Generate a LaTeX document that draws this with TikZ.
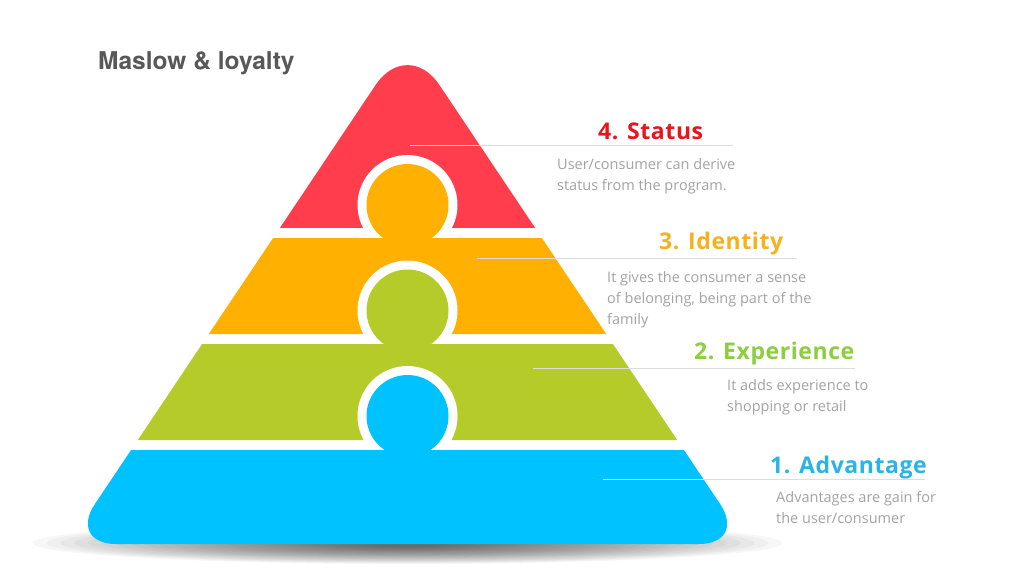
\documentclass[tikz,border=0pt]{standalone}
\usepackage{fontspec}
\setmainfont{Open Sans}
\newfontfamily\headfont{TeX Gyre Heros}
\newfontfamily\levelfont[LetterSpace=2.5]{Open Sans}
\usepackage{tikz}
\usetikzlibrary{positioning}
\usepackage{xcolor}
\definecolor{statusred}{HTML}{FF3D4C}
\definecolor{identityorange}{HTML}{FFB000}
\definecolor{experiencegreen}{HTML}{B5CB2A}
\definecolor{advantageblue}{HTML}{00C2FF}
\definecolor{statustext}{HTML}{E8141E}
\definecolor{identitytext}{HTML}{F5B21E}
\definecolor{experiencetext}{HTML}{8CCF3C}
\definecolor{advantagetext}{HTML}{2AB3E6}
\definecolor{titlegray}{HTML}{585858}
\definecolor{descgray}{HTML}{A3A3A3}
\definecolor{leader}{HTML}{DDDDDD}
\tikzset{
  level/.style={font=\levelfont\bfseries\fontsize{23}{26}\selectfont, anchor=base west, inner sep=0pt},
  desc/.style={font=\fontsize{14.5}{21}\selectfont, text=descgray, align=left, anchor=north west, inner sep=0pt},
  leaderline/.style={draw=leader, line width=1pt},
  ring/.style={fill=white},
}

\begin{document}
\begin{tikzpicture}[x=1pt, y=-1pt]
  \fill[white] (0,0) rectangle (1024,586);
  % shadow under the base
  \foreach \k in {0,...,24}
    \fill[black, opacity=0.032] (407.5,543) ellipse [x radius={375*(1-\k/27)}, y radius={21*(1-\k/30)}];

  % 4 status (top)
  \begin{scope}
    \clip (0,0) rectangle (1024,227);
    \fill[statusred, rounded corners=57] (407.5,37.4) -- (596.8,320) -- (218.2,320) -- cycle;
  \end{scope}
  \fill[ring] (407.5,205) circle [radius=50];

  % 3 identity
  \fill[identityorange] (273.1,238) -- (541.9,238) -- (606.2,334) -- (208.8,334) -- cycle;
  \fill[identityorange] (407.5,205) circle [radius=41];
  \fill[ring] (407.5,310.5) circle [radius=50];

  % 2 experience
  \fill[experiencegreen] (202.1,344) -- (612.9,344) -- (677.2,440) -- (137.8,440) -- cycle;
  \fill[experiencegreen] (407.5,310.5) circle [radius=41];
  \fill[ring] (407.5,416) circle [radius=50];

  % 1 advantage (base)
  \begin{scope}
    \clip (0,450) rectangle (1024,586);
    \fill[advantageblue, rounded corners=48] (164.6,400) -- (650.4,400) -- (746.9,544) -- (68.1,544) -- cycle;
  \end{scope}
  \fill[advantageblue] (407.5,416) circle [radius=41];

  \node[anchor=base west, inner sep=0pt, text=titlegray, font=\headfont\bfseries\fontsize{24.5}{28}\selectfont] (title) at (98,69) {Maslow \& loyalty};

  \coordinate (status-in) at (410,145);        \coordinate (status-out) at (733,145);
  \coordinate (identity-in) at (477,258);      \coordinate (identity-out) at (797,258);
  \coordinate (experience-in) at (533,368);    \coordinate (experience-out) at (855,368);
  \coordinate (advantage-in) at (603,479);     \coordinate (advantage-out) at (925,479);
  \foreach \s in {status,identity,experience,advantage}
    \draw[leaderline] (\s-in) -- (\s-out);

  \node[level, text=statustext] (status) at (598,139) {4. Status};
  \node[desc] (status-txt) at (557,158) {User/consumer can derive\\status from the program.};

  \node[level, text=identitytext] (identity) at (659,249) {3. Identity};
  \node[desc] (identity-txt) at (607,271) {It gives the consumer a sense\\of belonging, being part of the\\family};

  \node[level, text=experiencetext] (experience) at (694,359) {2. Experience};
  \node[desc] (experience-txt) at (727,379) {It adds experience to\\shopping or retail};

  \node[level, text=advantagetext] (advantage) at (770,473) {1. Advantage};
  \node[desc] (advantage-txt) at (776,491) {Advantages are gain for\\the user/consumer};
\end{tikzpicture}
\end{document}
